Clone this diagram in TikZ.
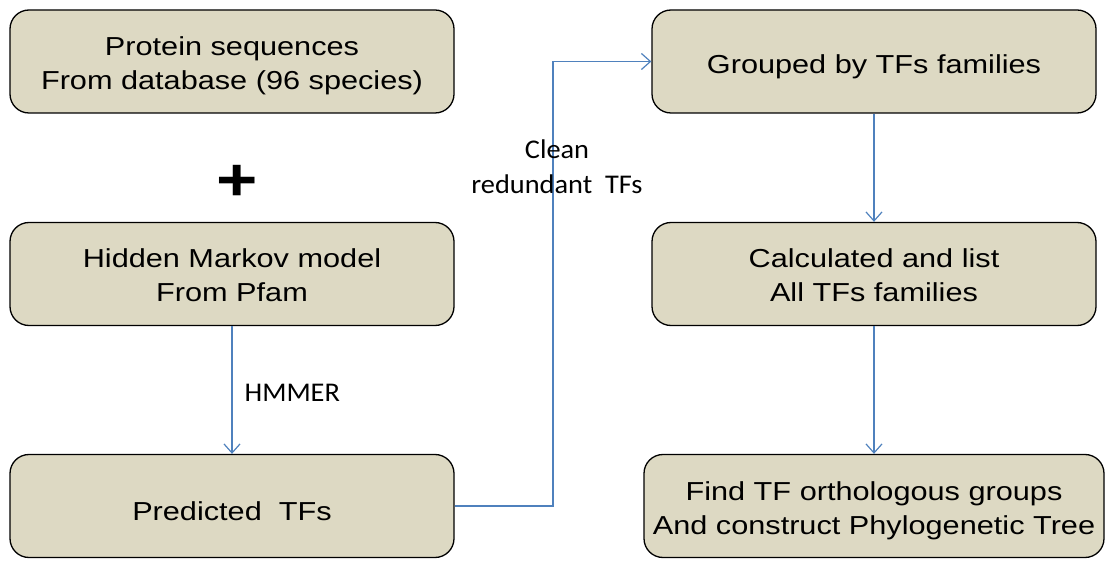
\documentclass[tikz,border=0pt]{standalone}
\usepackage{fontspec}
\setmainfont{Liberation Sans}[FakeStretch=1.18]
\newfontfamily\labelfont{Carlito}[FakeStretch=1.05]
\usetikzlibrary{arrows.meta}
\definecolor{boxfill}{RGB}{221,217,195}
\definecolor{flowblue}{RGB}{79,129,189}
\begin{document}
\begin{tikzpicture}[x=1pt,y=-1pt,
  stage/.style={draw=black,line width=1.3pt,fill=boxfill,rounded corners=19pt,
    minimum width=444pt,minimum height=103pt,align=center,text height=29pt,
    font=\fontsize{26}{34}\selectfont,inner sep=0pt},
  twoline/.style={stage,text height=56pt,text depth=0pt},
  flow/.style={draw=flowblue,line width=1.2pt,-{Straight Barb[length=9pt,width=16pt,line width=1.2pt]}},
  note/.style={font=\labelfont\fontsize{27}{35}\selectfont,align=center,inner sep=0pt}]
\useasboundingbox (0,0) rectangle (1109,561);
% left column
\node[twoline] (prot) at (232,61.5) {Protein sequences\\From database (96 species)};
\node[font=\fontsize{60}{60}\selectfont\bfseries,inner sep=0pt] (plus) at (237,183) {+};
\node[twoline] (hmm) at (232,274) {Hidden Markov model\\From Pfam};
\node[stage] (pred) at (232,506) {Predicted\ \ TFs};
% right column
\node[stage] (group) at (874,61.5) {Grouped by TFs families};
\node[twoline] (calc) at (874,274) {Calculated and list\\All TFs families};
\node[twoline,minimum width=460pt] (find) at (874,506) {Find TF orthologous groups\\And construct Phylogenetic Tree};
% connectors
\draw[flow] (hmm.south) -- node[note,right=12pt,pos=0.52] {HMMER} (pred.north);
\coordinate (turn) at (553,506);
\draw[flow] (pred.east) -- (turn) |- (group.west);
\node[note] (clean) at (557,167) {Clean\\redundant\ \ TFs};
\draw[flow] (group.south) -- (calc.north);
\draw[flow] (calc.south) -- (find.north);
\end{tikzpicture}
\end{document}
